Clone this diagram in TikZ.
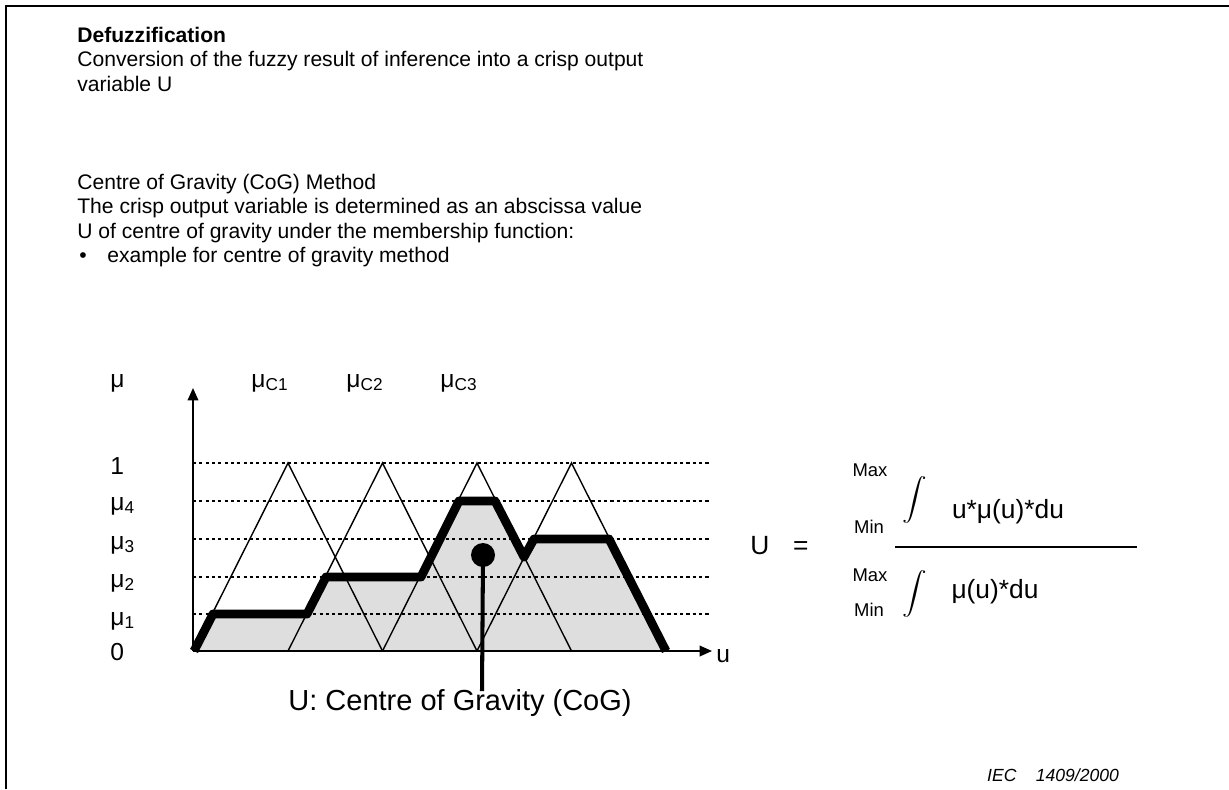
\documentclass[tikz,border=0pt]{standalone}
\usepackage{fontspec}
\setmainfont{Liberation Sans}
\usetikzlibrary{arrows.meta}

\begin{document}
\begin{tikzpicture}[x=0.02cm, y=-0.02cm, font=\fontsize{12}{13.9}\selectfont,
	every node/.style={inner sep=0pt},
	txt/.style={anchor=base west, align=left},
	axlab/.style={anchor=west, font=\fontsize{14}{16}\selectfont},
	toplab/.style={font=\fontsize{14}{16}\selectfont},
	formula/.style={font=\fontsize{15}{18}\selectfont},
	limit/.style={font=\fontsize{10.5}{12}\selectfont},
	intsign/.style={font=\fontsize{11}{13}\selectfont},
	level/.style={dash pattern=on 1.8pt off 1.8pt, line width=0.7pt},
	memb/.style={line width=0.8pt},
	result/.style={line width=5pt, line join=round},
	axis/.style={line width=1pt, -{Triangle[length=7pt,width=6pt]}}]
	\useasboundingbox (0,0) rectangle (1229,789);
	% Frame (only top and left visible)
	\draw[line width=1.5pt] (6,789) -- (6,6) -- (1229,6);
	% Text block (base = last line)
	\node[txt, font=\bfseries\fontsize{12}{13.9}\selectfont] (title) at (77,42) {Defuzzification};
	\node[txt] (intro) at (77,91) {Conversion of the fuzzy result of inference into a crisp output\\variable U};
	\node[txt] (method) at (77,238)
		{Centre of Gravity (CoG) Method\\The crisp output variable is determined as an abscissa value\\
		U of centre of gravity under the membership function:};
	\node[txt] (bullet) at (79,262) {\textbullet};
	\node[txt] (example) at (107,262) {example for centre of gravity method};
	% Area under the resulting membership function
	\fill[black!13] (194,651) -- (213,614) -- (307,614) -- (326,577) -- (421,577) -- (459,501)
		-- (495,501) -- (524,557) -- (534,539) -- (609,539) -- (666,651) -- cycle;
	% Levels 1, mu4 ... mu1
	\foreach \y in {463,501,539,577,614}
		\draw[level] (193,\y) -- (710,\y);
	% Membership triangles
	\foreach \k in {0,...,3}
		\draw[memb] ({193.5+94.5*\k},651) -- ({288+94.5*\k},463) -- ({382.5+94.5*\k},651);
	% Axes
	\coordinate (origin) at (193,651);
	\coordinate (ytip) at (193,388);
	\coordinate (xtip) at (712,651);
	\draw[axis] (origin) -- (ytip);
	\draw[axis] (origin) -- (xtip);
	% Resulting (clipped) membership function
	\draw[result] (194,651) -- (213,614) -- (307,614) -- (326,577) -- (421,577) -- (459,501)
		-- (495,501) -- (524,557) -- (534,539) -- (609,539) -- (666,651);
	% Centre of gravity
	\node[circle, fill, minimum size=0.48cm] (cog) at (483,555) {};
	\coordinate (cogfoot) at (482,691);
	\draw[line width=2.3pt] (cog.center) -- (cogfoot);
	\node[font=\fontsize{16.5}{19}\selectfont] (coglab) at (460,703) {U: Centre of Gravity (CoG)};
	% Axis labels
	\node[axlab] (mu) at (110,383) {μ};
	\node[axlab] (one) at (110,466) {1};
	\node[axlab] (mufour) at (110,506) {μ\textsubscript{4}};
	\node[axlab] (muthree) at (110,545) {μ\textsubscript{3}};
	\node[axlab] (mutwo) at (110,583) {μ\textsubscript{2}};
	\node[axlab] (muone) at (110,621) {μ\textsubscript{1}};
	\node[axlab] (zero) at (110,652) {0};
	\node[axlab] (ulab) at (716,656) {u};
	\node[toplab] (muci) at (270,383) {μ\textsubscript{C1}};
	\node[toplab] (mucii) at (365,383) {μ\textsubscript{C2}};
	\node[toplab] (muciii) at (459,383) {μ\textsubscript{C3}};
	% Formula
	\node[formula, anchor=west] (ueq) at (750,546) {U\hspace{0.9em}=};
	\node[limit] (maxi) at (870,470) {Max};
	\node[limit] (mini) at (869,527) {Min};
	\node[intsign] (inti) at (915,500) {\scalebox{1.4}[1.2]{$\displaystyle\int$}};
	\node[formula] (num) at (1008,512) {u*μ(u)*du};
	\draw[line width=1.2pt] (895,547) -- (1137,547);
	\node[limit] (maxii) at (870,575) {Max};
	\node[limit] (minii) at (869,610) {Min};
	\node[intsign] (intii) at (915,594) {\scalebox{1.4}[1.2]{$\displaystyle\int$}};
	\node[formula] (den) at (995,592) {μ(u)*du};
	\node[font=\itshape\fontsize{10}{12}\selectfont] (iec) at (1053,775) {IEC\hspace{1.1em}1409/2000};
\end{tikzpicture}
\end{document}
